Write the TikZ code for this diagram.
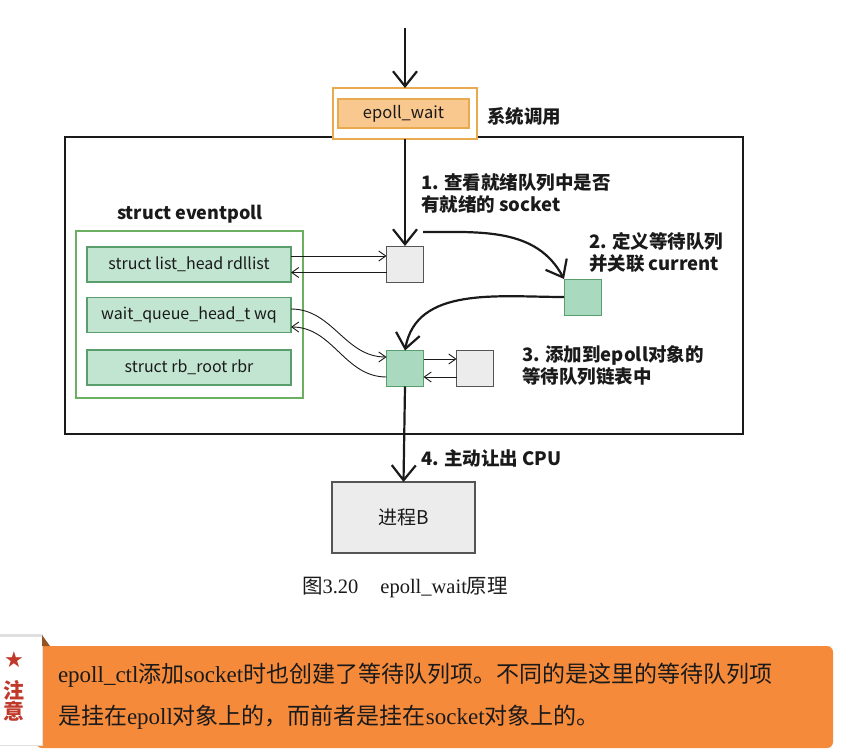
\documentclass[tikz,border=0pt]{standalone}
\usepackage{fontspec}
\setmainfont{Liberation Serif}
\newfontfamily\cjk{Noto Sans CJK SC}
\newfontfamily\symfont{DejaVu Sans}
\usetikzlibrary{arrows.meta}
\definecolor{orgline}{HTML}{E9A94E}
\definecolor{orgfill}{HTML}{F9C88E}
\definecolor{grnline}{HTML}{5B9E6E}
\definecolor{grnfill}{HTML}{C2E5D2}
\definecolor{grnfill2}{HTML}{A9D9BF}
\definecolor{evpline}{HTML}{6DAF62}
\definecolor{gryfill}{HTML}{ECECEC}
\definecolor{gryline}{HTML}{555555}
\definecolor{calloutc}{HTML}{F68A3B}
\definecolor{notered}{HTML}{C0392B}
\definecolor{txt}{HTML}{1A1A1A}
\begin{document}
\begin{tikzpicture}[x=1pt,y=-1pt,
  every node/.style={inner sep=0pt, outer sep=0pt, text=txt},
  fieldbox/.style={draw=grnline, fill=grnfill, line width=1.1pt, minimum width=204pt, minimum height=35pt, font=\cjk\fontsize{16}{18}\selectfont},
  graysq/.style={draw=gryline, fill=gryfill, line width=1pt, minimum width=37pt, minimum height=36pt},
  greensq/.style={draw=grnline, fill=grnfill2, line width=1pt, minimum width=37pt, minimum height=36pt},
  lbl/.style={font=\cjk\bfseries\fontsize{18.5}{22}\selectfont, align=left, anchor=west},
  bigarrow/.style={line width=2.2pt, draw=txt, -{Straight Barb[length=15pt,width=24pt,line width=2.2pt]}},
  thinarrow/.style={line width=0.9pt, draw=txt, -{Straight Barb[length=7pt,width=10pt,line width=0.9pt]}}
]
\useasboundingbox (0,0) rectangle (857,749);
\fill[white] (0,0) rectangle (857,749);

% main frame
\node[draw=txt, line width=1.1pt, minimum width=678pt, minimum height=297pt] (frame) at (404,285.5) {};

% epoll_wait
\node[draw=orgline, fill=white, line width=1.4pt, minimum width=144pt, minimum height=51pt] (epouter) at (405,113.5) {};
\node[draw=orgline, fill=orgfill, line width=1.2pt, minimum width=131pt, minimum height=29pt, font=\cjk\fontsize{16.5}{20}\selectfont] (epinner) at (403.5,113.5) {epoll\_wait};
\node[lbl] (sys) at (487,116) {系统调用};
\coordinate (topc) at (405,28);

% eventpoll
\node[font=\cjk\bfseries\fontsize{18}{20}\selectfont] (evptitle) at (190,214) {struct eventpoll};
\node[draw=evpline, fill=white, line width=1.2pt, minimum width=227pt, minimum height=167pt] (evp) at (189.5,314.5) {};
\node[fieldbox] (rdl) at (189,264.5) {struct list\_head rdllist};
\node[fieldbox] (wq) at (189,315) {wait\_queue\_head\_t wq};
\node[fieldbox] (rbr) at (189,367.5) {struct rb\_root rbr};

% squares
\node[graysq] (A) at (405,264) {};
\node[greensq] (B) at (582.5,297) {};
\node[greensq] (C) at (405,368.5) {};
\node[graysq] (D) at (475,368.5) {};

% process B
\node[draw=gryline, fill=gryfill, line width=1.1pt, minimum width=143pt, minimum height=71pt, font=\cjk\fontsize{19}{20}\selectfont] (procB) at (403.5,517.5) {进程B};

% labels
\node[lbl] (l1) at (421,193) {1. 查看就绪队列中是否\\有就绪的 socket};
\node[lbl] (l2) at (589,252) {2. 定义等待队列\\并关联 current};
\node[lbl] (l3) at (522,366) {3. 添加到epoll对象的\\等待队列链表中};
\node[lbl] (l4) at (421,458) {4. 主动让出 CPU};

% arrows
\draw[bigarrow] (topc) -- (epouter.north);
\draw[bigarrow] (epouter.south) -- (A.north);
\coordinate (a1) at (423,232);
\draw[bigarrow] (a1) to[out=0,in=118] (B.north west);
\draw[bigarrow] (B.west) to[out=180,in=80] (C.north);
\draw[bigarrow] (C.south) -- (procB.north);

\draw[thinarrow] ([yshift=8.5pt]rdl.east) -- ([yshift=8.5pt]rdl.east -| A.west);
\draw[thinarrow] ([yshift=-8.5pt]A.west) -- ([yshift=-8.5pt]A.west -| rdl.east);
\draw[thinarrow] ([yshift=6pt]wq.east) to[out=0,in=180] ([yshift=11.5pt]C.west);
\draw[thinarrow] ([yshift=-8.5pt]C.west) to[out=180,in=0] ([yshift=-12pt]wq.east);
\draw[thinarrow] ([yshift=9.5pt]C.east) -- ([yshift=9.5pt]C.east -| D.west);
\draw[thinarrow] ([yshift=-8.5pt]D.west) -- ([yshift=-8.5pt]D.west -| C.east);

% caption
\node[font=\fontsize{20.5}{22}\selectfont] (cap) at (405,588) {{\cjk 图}3.20\hspace{22pt}epoll\_wait{\cjk 原理}};

% callout
\fill[calloutc, rounded corners=6pt] (36,646) rectangle (833,748);
\fill[black!12] (0,634) rectangle (43,746);
\fill[white] (0,637) rectangle (42,745);
\fill[calloutc!60!black] (42,635) -- (50,646) -- (42,646) -- cycle;
\node[font=\symfont\fontsize{22}{22}\selectfont, text=notered] (star) at (14,660) {★};
\node[font=\cjk\bfseries\fontsize{21}{22}\selectfont, text=notered, align=center] (zhuyi) at (14,701) {注\\[-1pt]意};
\node[anchor=west, font=\fontsize{23}{42}\selectfont, align=left] (note) at (58,696) {epoll\_ctl{\cjk 添加}socket{\cjk 时也创建了等待队列项。不同的是这里的等待队列项}\\{\cjk 是挂在}epoll{\cjk 对象上的，而前者是挂在}socket{\cjk 对象上的。}};
\end{tikzpicture}
\end{document}
